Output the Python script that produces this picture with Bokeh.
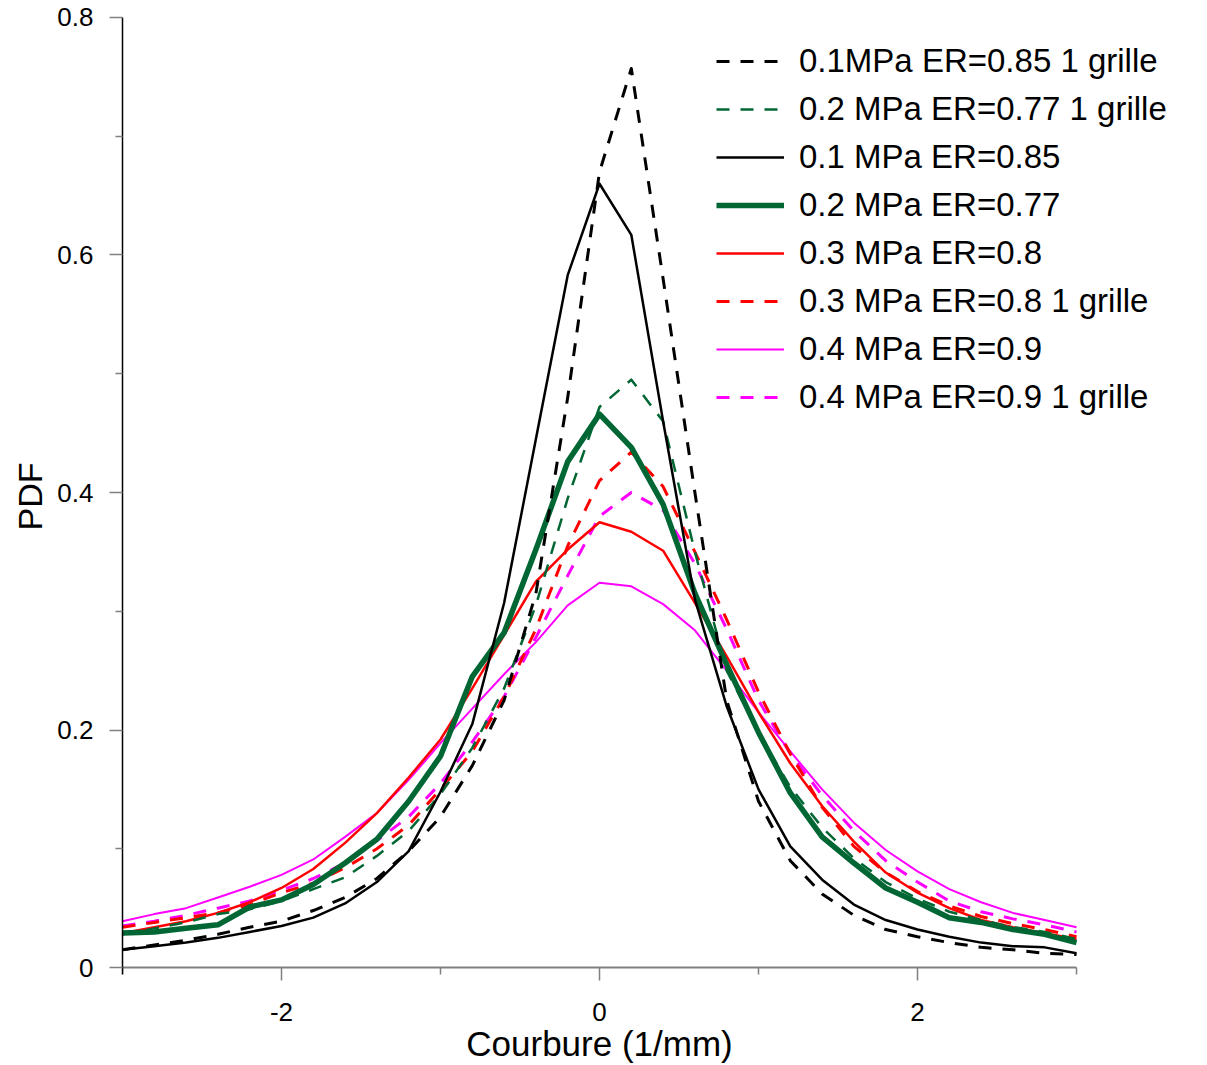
from bokeh.plotting import figure
from bokeh.models import Legend, LegendItem, FixedTicker, Range1d, Title
from bokeh.embed import file_html
from bokeh.resources import INLINE

# Courbure (1/mm) grid
x_vals = [-3.0, -2.8, -2.6, -2.4, -2.2, -2.0, -1.8, -1.6, -1.4, -1.2, -1.0,
          -0.8, -0.6, -0.4, -0.2, 0.0, 0.2, 0.4, 0.6, 0.8, 1.0,
          1.2, 1.4, 1.6, 1.8, 2.0, 2.2, 2.4, 2.6, 2.8, 3.0]

# PDF series
pdf_01_grille = [0.015, 0.019, 0.023, 0.028, 0.034, 0.039, 0.048, 0.059, 0.075, 0.098, 0.127,
                 0.170, 0.225, 0.315, 0.480, 0.670, 0.757, 0.580, 0.400, 0.225, 0.140,
                 0.090, 0.062, 0.044, 0.032, 0.026, 0.021, 0.017, 0.015, 0.012, 0.011]
pdf_02_grille = [0.028, 0.033, 0.038, 0.045, 0.049, 0.056, 0.066, 0.076, 0.094, 0.115, 0.146,
                 0.185, 0.235, 0.305, 0.395, 0.472, 0.495, 0.460, 0.350, 0.250, 0.198,
                 0.152, 0.118, 0.092, 0.072, 0.058, 0.047, 0.040, 0.034, 0.030, 0.024]
pdf_01 = [0.015, 0.018, 0.021, 0.025, 0.030, 0.035, 0.042, 0.054, 0.072, 0.098, 0.148,
          0.205, 0.307, 0.445, 0.583, 0.660, 0.617, 0.460, 0.310, 0.220, 0.150,
          0.102, 0.074, 0.053, 0.040, 0.032, 0.026, 0.021, 0.018, 0.017, 0.012]
pdf_02 = [0.029, 0.030, 0.033, 0.036, 0.051, 0.057, 0.070, 0.088, 0.108, 0.140, 0.178,
          0.245, 0.282, 0.352, 0.426, 0.466, 0.438, 0.390, 0.315, 0.255, 0.198,
          0.147, 0.110, 0.088, 0.067, 0.055, 0.042, 0.038, 0.032, 0.028, 0.021]
pdf_03 = [0.029, 0.034, 0.039, 0.046, 0.055, 0.067, 0.083, 0.105, 0.130, 0.160, 0.192,
          0.235, 0.280, 0.325, 0.352, 0.375, 0.367, 0.351, 0.307, 0.262, 0.215,
          0.172, 0.136, 0.106, 0.080, 0.063, 0.050, 0.040, 0.034, 0.029, 0.024]
pdf_03_grille = [0.034, 0.038, 0.042, 0.046, 0.053, 0.063, 0.071, 0.084, 0.100, 0.120, 0.150,
                 0.182, 0.228, 0.285, 0.355, 0.410, 0.434, 0.405, 0.350, 0.293, 0.232,
                 0.180, 0.135, 0.102, 0.080, 0.064, 0.052, 0.043, 0.037, 0.032, 0.026]
pdf_04 = [0.039, 0.045, 0.050, 0.059, 0.068, 0.078, 0.091, 0.110, 0.130, 0.158, 0.189,
          0.218, 0.247, 0.274, 0.305, 0.324, 0.321, 0.306, 0.284, 0.250, 0.215,
          0.182, 0.150, 0.122, 0.099, 0.081, 0.066, 0.055, 0.046, 0.040, 0.034]
pdf_04_grille = [0.035, 0.039, 0.044, 0.050, 0.056, 0.065, 0.075, 0.088, 0.107, 0.127, 0.155,
                 0.190, 0.228, 0.278, 0.330, 0.380, 0.400, 0.385, 0.340, 0.285, 0.225,
                 0.180, 0.145, 0.115, 0.090, 0.072, 0.056, 0.047, 0.041, 0.036, 0.030]

labels = ["0.1MPa ER=0.85 1 grille", "0.2 MPa ER=0.77 1 grille", "0.1 MPa ER=0.85",
          "0.2 MPa ER=0.77", "0.3 MPa ER=0.8", "0.3 MPa ER=0.8 1 grille",
          "0.4 MPa ER=0.9", "0.4 MPa ER=0.9 1 grille"]
series = [pdf_01_grille, pdf_02_grille, pdf_01, pdf_02, pdf_03, pdf_03_grille, pdf_04, pdf_04_grille]
colors = ["#000000", "#006633", "#000000", "#006633", "#FF0000", "#FF0000", "#FF00FF", "#FF00FF"]
widths = [3, 2.5, 2.5, 5.5, 2.5, 3, 2, 3]
dashes = ["13 11", "13 11", "solid", "solid", "solid", "13 11", "solid", "13 11"]

x_ticks = [-2, 0, 2]
x_minor = [-3, -1, 1, 3]
y_ticks = [0, 0.2, 0.4, 0.6, 0.8]
y_minor = [0.1, 0.3, 0.5, 0.7]

FONT = "Liberation Sans"

# frame spans the whole canvas right/top/bottom; data box is -3..3 x 0..0.8
p = figure(width=1204, height=1063, output_backend="svg", toolbar_location=None,
           x_range=Range1d(-3, 3.805), y_range=Range1d(-0.0808, 0.8143),
           min_border_left=122, min_border_right=0, min_border_top=0, min_border_bottom=0)
p.xgrid.visible = False
p.ygrid.visible = False
p.outline_line_color = None
p.background_fill_color = "white"
p.border_fill_color = "white"

renderers = {}
draw_order = [7, 6, 5, 4, 3, 1, 2, 0]
for i in draw_order:
    r = p.line(x_vals, series[i], line_color=colors[i], line_width=widths[i],
               line_dash=dashes[i], line_join="round")
    renderers[i] = r

items = [LegendItem(label=labels[i], renderers=[renderers[i]]) for i in range(8)]
legend = Legend(items=items, location=(594, 642), orientation="vertical",
                border_line_color=None, background_fill_alpha=0, padding=0, margin=0,
                spacing=0, label_height=48, glyph_height=48, glyph_width=68,
                label_standoff=15, label_text_font=FONT, label_text_font_size="33px",
                label_text_color="#000000")
p.add_layout(legend, "center")

# x axis (sits at y = 0)
xa = p.xaxis[0]
xa.fixed_location = 0
xa.bounds = (-3.082, 3)
xa.ticker = FixedTicker(ticks=x_ticks, minor_ticks=x_minor)
xa.major_label_overrides = {-2: "-2", 0: "0", 2: "2"}
xa.axis_line_color = "#808080"
xa.axis_line_width = 2
xa.major_tick_line_color = "#808080"
xa.minor_tick_line_color = "#808080"
xa.major_tick_line_width = 1.5
xa.minor_tick_line_width = 1.5
xa.major_tick_out = 13
xa.major_tick_in = 0
xa.minor_tick_out = 7
xa.minor_tick_in = 0
xa.major_label_text_font = FONT
xa.major_label_text_font_size = "26px"
xa.major_label_text_color = "#000000"
xa.major_label_standoff = 22
xa.axis_label = "Courbure (1/mm)"
xa.axis_label_text_font = FONT
xa.axis_label_text_font_size = "35px"
xa.axis_label_text_font_style = "normal"
xa.axis_label_text_color = "#000000"
xa.axis_label_standoff = 0

# y axis
ya = p.yaxis[0]
ya.bounds = (-0.006, 0.8)
ya.ticker = FixedTicker(ticks=y_ticks, minor_ticks=y_minor)
ya.major_label_overrides = {0: "0", 0.2: "0.2", 0.4: "0.4", 0.6: "0.6", 0.8: "0.8"}
ya.axis_line_color = "#000000"
ya.axis_line_width = 1.5
ya.major_tick_line_color = "#808080"
ya.minor_tick_line_color = "#808080"
ya.major_tick_line_width = 1.5
ya.minor_tick_line_width = 1.5
ya.major_tick_out = 13
ya.major_tick_in = 0
ya.minor_tick_out = 7
ya.minor_tick_in = 0
ya.major_label_text_font = FONT
ya.major_label_text_font_size = "26px"
ya.major_label_text_color = "#000000"
ya.major_label_standoff = 16
ya.axis_label = None

# y-axis title placed so it is centred on the 0..0.8 data box
p.add_layout(Title(text="PDF", align="right", vertical_align="middle", offset=462,
                   text_font=FONT, text_font_size="34px", text_font_style="normal",
                   text_color="#000000"), "left")

open("out.html", "w").write(file_html(p, INLINE))
